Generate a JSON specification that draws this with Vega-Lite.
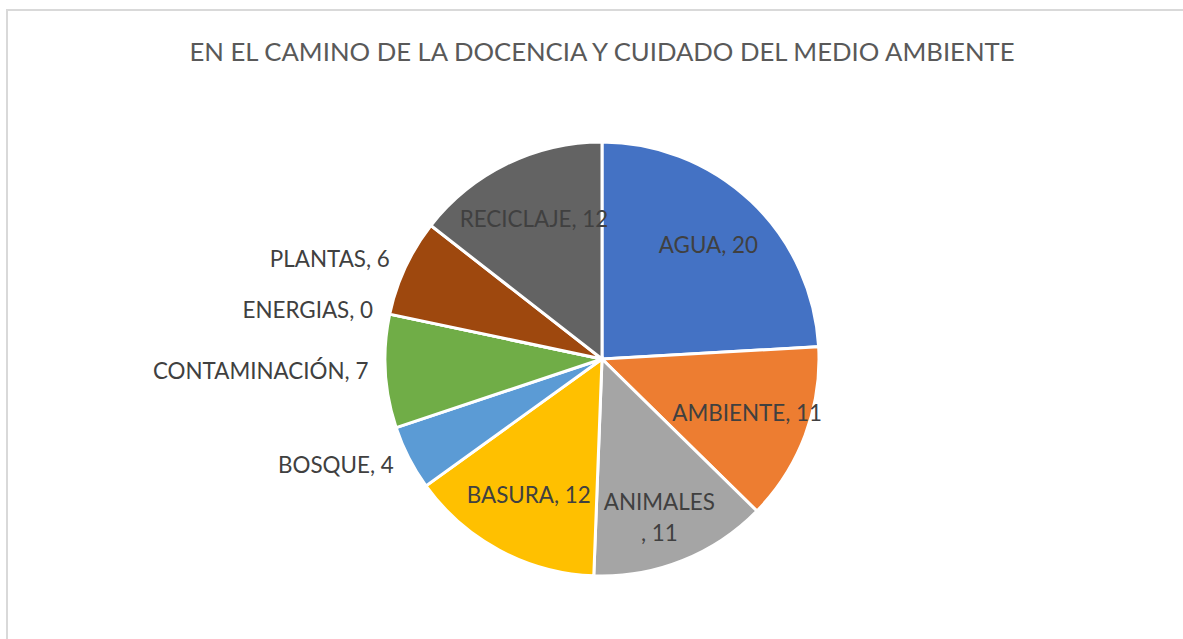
{
  "$schema": "https://vega.github.io/schema/vega-lite/v6.json",
  "width": 1190,
  "height": 698,
  "autosize": "none",
  "padding": {"left": 7, "top": 10, "right": -14, "bottom": -69},
  "background": "white",
  "view": {"stroke": "#d9d9d9", "strokeWidth": 2, "fill": "white"},
  "config": {"view": {"stroke": "#d9d9d9", "strokeWidth": 2}},
  "title": {
    "text": "EN EL CAMINO DE LA DOCENCIA Y CUIDADO DEL MEDIO AMBIENTE",
    "font": "Lato",
    "fontSize": 25.7,
    "fontWeight": "normal",
    "color": "#595959",
    "anchor": "middle",
    "baseline": "alphabetic",
    "offset": 0,
    "dy": 77
  },
  "data": {
    "values": [
      {"cat": "AGUA", "value": 20, "label": "AGUA, 20"},
      {"cat": "AMBIENTE", "value": 11, "label": "AMBIENTE, 11"},
      {"cat": "ANIMALES", "value": 11, "label": "ANIMALES\n, 11"},
      {"cat": "BASURA", "value": 12, "label": "BASURA, 12"},
      {"cat": "BOSQUE", "value": 4, "label": "BOSQUE, 4"},
      {"cat": "CONTAMINACIÓN", "value": 7, "label": "CONTAMINACIÓN, 7"},
      {"cat": "ENERGIAS", "value": 0, "label": "ENERGIAS, 0"},
      {"cat": "PLANTAS", "value": 6, "label": "PLANTAS, 6"},
      {"cat": "RECICLAJE", "value": 12, "label": "RECICLAJE, 12"}
    ]
  },
  "encoding": {
    "theta": {"field": "value", "type": "quantitative", "stack": true}
  },
  "layer": [
    {
      "mark": {"type": "arc", "outerRadius": 217, "stroke": "white", "strokeWidth": 3},
      "encoding": {
        "color": {
          "field": "cat",
          "type": "nominal",
          "legend": null,
          "sort": ["AGUA", "AMBIENTE", "ANIMALES", "BASURA", "BOSQUE", "CONTAMINACIÓN", "ENERGIAS", "PLANTAS", "RECICLAJE"],
          "scale": {
            "domain": ["AGUA", "AMBIENTE", "ANIMALES", "BASURA", "BOSQUE", "CONTAMINACIÓN", "ENERGIAS", "PLANTAS", "RECICLAJE"],
            "range": ["#4472C4", "#ED7D31", "#A5A5A5", "#FFC000", "#5B9BD5", "#70AD47", "#264478", "#9E480E", "#636363"]
          }
        }
      }
    },
    {
      "mark": {"type": "text", "radius": 155, "font": "Lato", "fontSize": 22.4, "fill": "#404040", "align": "center", "baseline": "middle", "lineBreak": "\n", "lineHeight": 31},
      "encoding": {
        "detail": {"field": "cat", "type": "nominal"},
        "text": {"condition": {"test": "datum.value >= 10", "field": "label"}, "value": ""}
      }
    },
    {
      "mark": {"type": "text", "radius": 234, "font": "Lato", "fontSize": 22.4, "fill": "#404040", "align": "right", "baseline": "middle"},
      "encoding": {
        "detail": {"field": "cat", "type": "nominal"},
        "text": {"condition": {"test": "datum.value < 10", "field": "label"}, "value": ""}
      }
    }
  ]
}
